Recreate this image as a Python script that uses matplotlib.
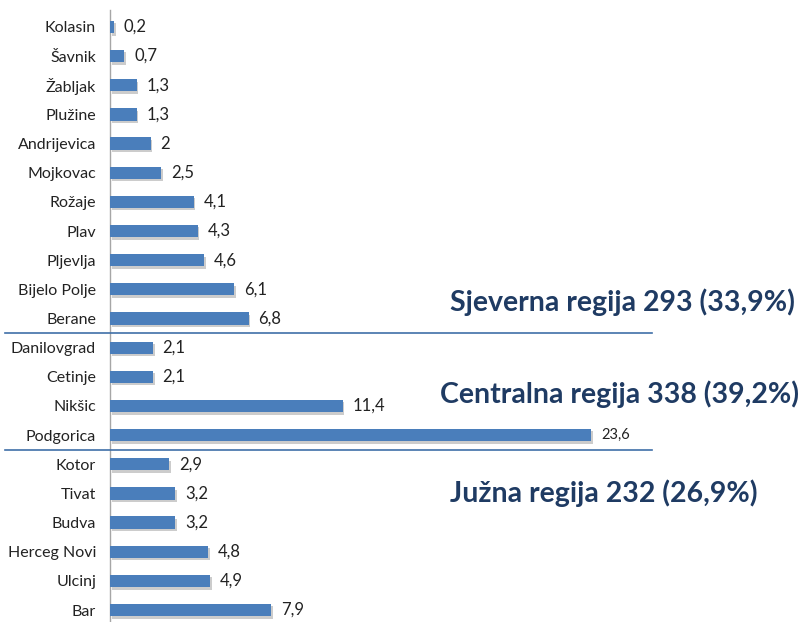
import matplotlib.pyplot as plt
import matplotlib.patheffects as pe
from matplotlib.transforms import blended_transform_factory

plt.rcParams['font.family'] = ['Lato', 'DejaVu Sans']

# municipalities, top to bottom
TOWNS = ['Kolasin', 'Šavnik', 'Žabljak', 'Plužine', 'Andrijevica', 'Mojkovac',
         'Rožaje', 'Plav', 'Pljevlja', 'Bijelo Polje', 'Berane',
         'Danilovgrad', 'Cetinje', 'Nikšic', 'Podgorica',
         'Kotor', 'Tivat', 'Budva', 'Herceg Novi', 'Ulcinj', 'Bar']
VALUES = [0.2, 0.7, 1.3, 1.3, 2, 2.5, 4.1, 4.3, 4.6, 6.1, 6.8,
          2.1, 2.1, 11.4, 23.6,
          2.9, 3.2, 3.2, 4.8, 4.9, 7.9]
REGIONS = ['Sjeverna regija 293 (33,9%)', 'Centralna regija 338 (39,2%)',
           'Južna regija 232 (26,9%)']
REGION_Y = [9.45, 12.6, 16.0]      # vertical position of each region label (row units)
REGION_X = [622, 620, 604]         # horizontal centre, pixels
SEPARATORS = [10.5, 14.5]          # boundaries between regions

BAR_COLOR = '#4a7ebb'
NAVY = '#1f3b63'

fig = plt.figure(figsize=(8.04, 6.22), dpi=100)
ax = fig.add_axes([110 / 804, 0, 690 / 804, 612 / 622])

pos = list(range(len(TOWNS)))
bars = ax.barh(pos, VALUES, height=0.42, color=BAR_COLOR, zorder=3)
for b in bars:
    b.set_path_effects([pe.SimplePatchShadow(offset=(1.2, -1.8), shadow_rgbFace='#9a9a9a', alpha=0.5),
                        pe.Normal()])

ax.set_xlim(0, 690 / 20.4)
ax.set_ylim(20.41, -0.58)

for p, v in zip(pos, VALUES):
    txt = ('%g' % v).replace('.', ',')
    fs = 10.5 if v > 20 else 12
    ax.annotate(txt, (v, p), xytext=(7, 0), textcoords='offset points',
                va='center', ha='left', fontsize=fs, color='#222222')

ax.set_yticks(pos)
ax.set_yticklabels(TOWNS, fontsize=11.5, color='#222222')
ax.tick_params(axis='y', length=0, pad=10)
ax.set_xticks([])
for s in ['top', 'right', 'bottom']:
    ax.spines[s].set_visible(False)
ax.spines['left'].set_color('#a6a6a6')
ax.spines['left'].set_linewidth(1)

trans = blended_transform_factory(fig.transFigure, ax.transData)
for y in SEPARATORS:
    ax.plot([5 / 804, 652 / 804], [y, y], transform=trans, color='#3f6fa8',
            lw=1.2, clip_on=False, zorder=4)

for label, x, y in zip(REGIONS, REGION_X, REGION_Y):
    ax.text(x / 804, y, label, transform=trans, ha='center', va='center',
            fontsize=20.5, fontweight='bold', color=NAVY)

fig.savefig('out.png', dpi=100)
